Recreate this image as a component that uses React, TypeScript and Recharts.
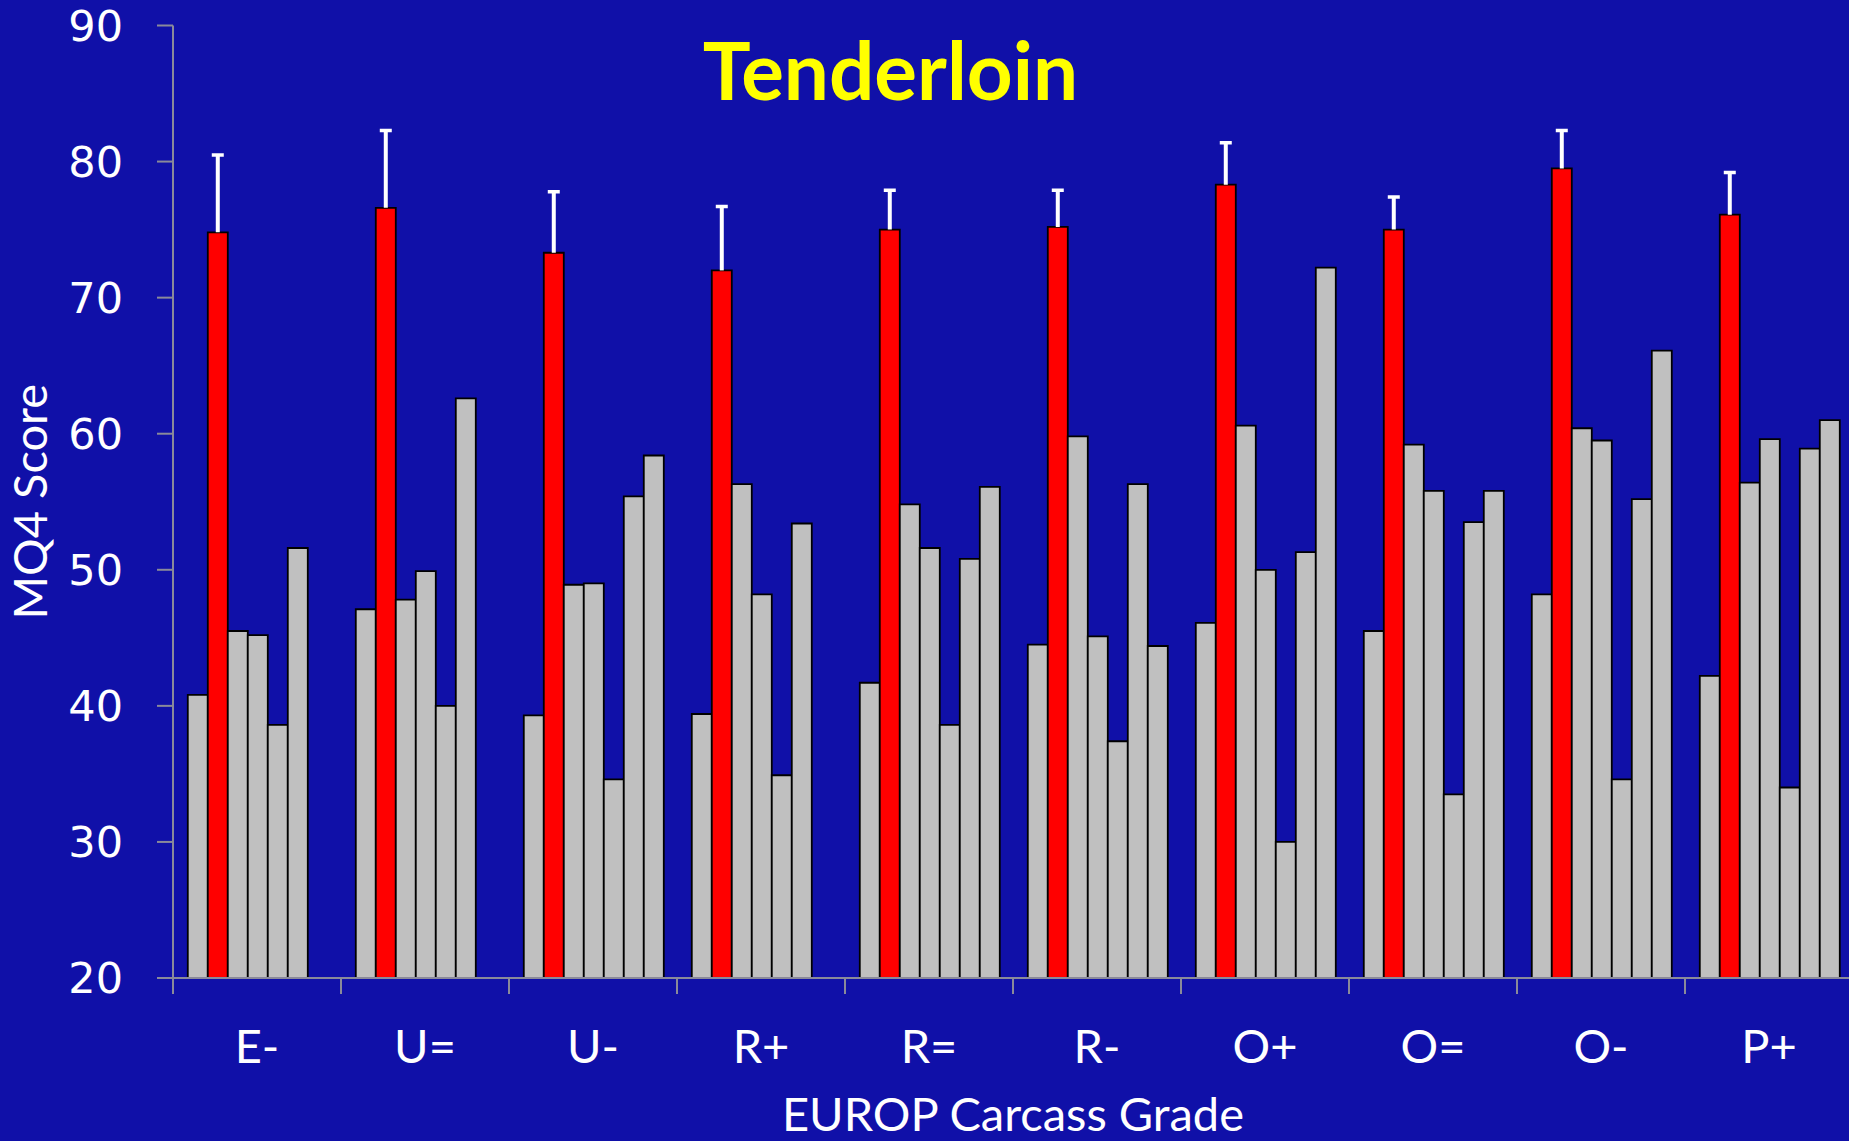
import { BarChart, Bar, XAxis, YAxis, Label } from 'recharts';

// EUROP carcass grades on the x axis
const grades = ['E-', 'U=', 'U-', 'R+', 'R=', 'R-', 'O+', 'O=', 'O-', 'P+'];

// MQ4 tenderloin scores, one array per column in each group (left to right)
const col1 = [40.8, 47.1, 39.3, 39.4, 41.7, 44.5, 46.1, 45.5, 48.2, 42.2];
const highlight = [74.8, 76.6, 73.3, 72.0, 75.0, 75.2, 78.3, 75.0, 79.5, 76.1];
const highlightErrTop = [80.6, 82.4, 77.9, 76.8, 78.0, 78.0, 81.5, 77.5, 82.4, 79.3];
const col3 = [45.5, 47.8, 48.9, 56.3, 54.8, 59.8, 60.6, 59.2, 60.4, 56.4];
const col4 = [45.2, 49.9, 49.0, 48.2, 51.6, 45.1, 50.0, 55.8, 59.5, 59.6];
const col5 = [38.6, 40.0, 34.6, 34.9, 38.6, 37.4, 30.0, 33.5, 34.6, 34.0];
const col6 = [51.6, 62.6, 55.4, 53.4, 50.8, 56.3, 51.3, 53.5, 55.2, 58.9];
const col7 = [null, null, 58.4, null, 56.1, 44.4, 72.2, 55.8, 66.1, 61.0];

const yTicks = [20, 30, 40, 50, 60, 70, 80, 90];

const BG = '#1010a8';
const AXIS = '#8a8a9a';
const GRAY = '#c0c0c0';
const FONT = 'Lato, "Open Sans", sans-serif';

const data = grades.map((grade, i) => ({
  grade,
  col1: col1[i],
  highlight: highlight[i],
  err: +(highlightErrTop[i] - highlight[i]).toFixed(2),
  col3: col3[i],
  col4: col4[i],
  col5: col5[i],
  col6: col6[i],
  col7: col7[i],
}));

// upward-only error whisker, stacked on top of the red bar
const Whisker = (props: any) => {
  const { x, y, width, height } = props;
  if (height == null || isNaN(height)) return null;
  const cx = x + width / 2;
  return (
    <g>
      <line x1={cx} x2={cx} y1={y + height} y2={y + 1.5} stroke="#ffffff" strokeWidth={4} />
      <line x1={cx - 6} x2={cx + 6} y1={y + 1.5} y2={y + 1.5} stroke="#ffffff" strokeWidth={3.5} />
    </g>
  );
};

// grade label centred in its band, tick mark on the band's left edge
const GradeTick = (props: any) => {
  const { x, y, payload } = props;
  const half = payload && typeof payload.offset === 'number' ? payload.offset : null;
  return (
    <g>
      {half != null && (
        <line x1={x - half} x2={x - half} y1={y} y2={y + 16} stroke={AXIS} strokeWidth={2} />
      )}
      <text x={x} y={y + 85} textAnchor="middle" fill="#ffffff" fontFamily={FONT} fontSize={47}>
        {payload.value}
      </text>
    </g>
  );
};

export default function App() {
  const barProps = {
    fill: GRAY,
    stroke: '#000000',
    strokeWidth: 1.8,
    isAnimationActive: false,
  };

  return (
    <div style={{ position: 'absolute', left: 0, top: 0, width: 1849, height: 1141, overflow: 'hidden', background: BG }}>
      <BarChart
        width={1853}
        height={1141}
        data={data}
        margin={{ top: 25.5, right: 0, bottom: 0, left: 0 }}
        barCategoryGap="8.8%"
        barGap={0}
      >
        <XAxis
          dataKey="grade"
          height={163}
          axisLine={{ stroke: AXIS, strokeWidth: 2 }}
          tickLine={false}
          tickSize={0}
          tickMargin={0}
          tick={<GradeTick />}
          interval={0}
        >
          <Label
            content={(p: any) => {
              const vb = p.viewBox;
              return (
                <text x={vb.x + vb.width / 2} y={vb.y + vb.height - 10} textAnchor="middle" fill="#ffffff" fontFamily={FONT} fontSize={47}>
                  EUROP Carcass Grade
                </text>
              );
            }}
          />
        </XAxis>
        <YAxis
          domain={[20, 90]}
          ticks={yTicks}
          width={173}
          tickSize={16}
          tickMargin={34}
          allowDataOverflow
          axisLine={{ stroke: AXIS, strokeWidth: 2 }}
          tickLine={{ stroke: AXIS, strokeWidth: 2 }}
          tick={{ fill: '#ffffff', fontSize: 43, fontFamily: '"DejaVu Sans", sans-serif' }}
        >
          <Label
            content={(p: any) => {
              const vb = p.viewBox;
              const cy = vb.y + vb.height / 2;
              return (
                <text x={47} y={cy} transform={`rotate(-90 47 ${cy})`} textAnchor="middle" fill="#ffffff" fontFamily={FONT} fontSize={47}>
                  MQ4 Score
                </text>
              );
            }}
          />
        </YAxis>
        <Bar dataKey="col1" stackId="c1" {...barProps} />
        <Bar dataKey="highlight" stackId="hl" {...barProps} fill="#ff0000" />
        <Bar dataKey="err" stackId="hl" shape={<Whisker />} isAnimationActive={false} />
        <Bar dataKey="col3" stackId="c3" {...barProps} />
        <Bar dataKey="col4" stackId="c4" {...barProps} />
        <Bar dataKey="col5" stackId="c5" {...barProps} />
        <Bar dataKey="col6" stackId="c6" {...barProps} />
        <Bar dataKey="col7" stackId="c7" {...barProps} />
      </BarChart>
      <svg width={1849} height={140} style={{ position: 'absolute', left: 0, top: 0, pointerEvents: 'none' }}>
        <text x={890.5} y={100} textAnchor="middle" fill="#ffff00" fontFamily={FONT} fontWeight="bold" fontSize={80}>
          Tenderloin
        </text>
      </svg>
    </div>
  );
}
